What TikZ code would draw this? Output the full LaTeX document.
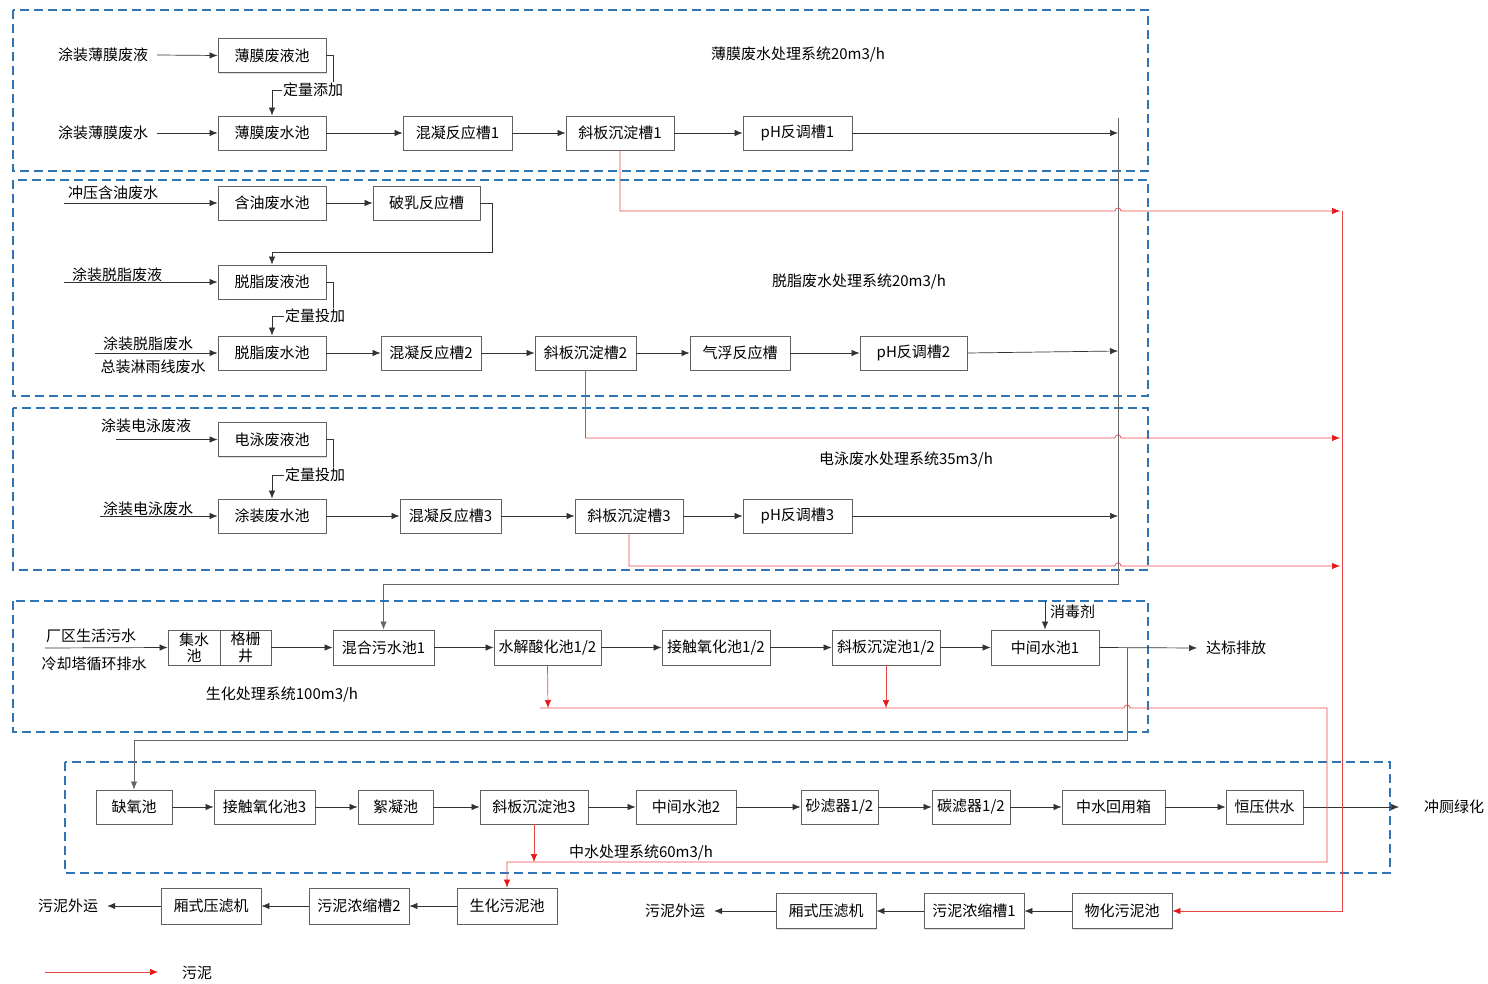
\documentclass[tikz,border=0pt]{standalone}
\usepackage{fontspec}
\setmainfont{Noto Sans CJK SC}
\usetikzlibrary{arrows.meta,shadows}
\definecolor{dashblue}{RGB}{46,117,182}
\definecolor{sludge}{RGB}{232,70,70}
\definecolor{sludgetip}{RGB}{235,20,20}
\tikzset{
  every node/.style={font=\fontsize{15pt}{18pt}\selectfont},
  unit/.style={rectangle, draw=black!62, line width=0.9pt, fill=white, minimum height=34pt, inner sep=1pt,
    drop shadow={shadow xshift=1.2pt, shadow yshift=-1.2pt, opacity=0.25}},
  txt/.style={inner sep=0pt},
  lbl/.style={inner sep=1pt, fill=white, anchor=west},
  flow/.style={draw=black!80, line width=0.7pt, -{Latex[length=8pt,width=6.5pt]}},
  plain/.style={draw=black!80, line width=0.7pt},
  collect/.style={draw=black!60, line width=0.8pt},
  mud/.style={draw=sludge, line width=0.7pt},
  mudarrow/.style={draw=sludge, line width=0.7pt, -{Latex[length=8pt,width=6.5pt,color=sludgetip]}},
  group/.style={draw=dashblue, line width=1.4pt, dash pattern=on 9pt off 5pt}
}
\begin{document}
\begin{tikzpicture}[x=1pt,y=-1pt]
\useasboundingbox (0,0) rectangle (1488,984);

% ---------- dashed group frames ----------
\draw[group] (13,10) rectangle (1148,171);
\draw[group] (13,180) rectangle (1148,396);
\draw[group] (13,408) rectangle (1148,570);
\draw[group] (13,601) rectangle (1148,732);
\draw[group] (65,762) rectangle (1390,873);

% ---------- system 1 ----------
\node[txt] (s1) at (103,55) {涂装薄膜废液};
\node[unit, minimum width=108pt] (b11) at (272,55.5) {薄膜废液池};
\node[txt] (s2) at (103,133) {涂装薄膜废水};
\node[unit, minimum width=108pt] (b12) at (272,133) {薄膜废水池};
\node[unit, minimum width=109pt] (b13) at (457.5,133) {混凝反应槽1};
\node[unit, minimum width=108pt] (b14) at (620,133) {斜板沉淀槽1};
\node[unit, minimum width=109pt] (b15) at (797.5,133) {pH反调槽1};
\node[txt] (t1) at (798,55) {薄膜废水处理系统20m3/h};
\coordinate (e1) at (1118,133);
\coordinate (k1) at (333,90);

\draw[flow] ([xshift=9pt]s1.east) -- (b11.west);
\draw[flow] ([xshift=9pt]s2.east) -- (b12.west);
\draw[flow] (b12) -- (b13);
\draw[flow] (b13) -- (b14);
\draw[flow] (b14) -- (b15);
\draw[flow] (b15.east) -- (e1);
\draw[flow] (b11.east) -| (k1) -| (b12.north);
\node[lbl] (q1) at (282,90) {定量添加};

% ---------- system 2 ----------
\coordinate (a21) at (64,203);
\node[txt, anchor=west] (s3) at (68,193) {冲压含油废水};
\node[unit, minimum width=108pt] (b21) at (272,203) {含油废水池};
\node[unit, minimum width=107pt] (b22) at (426.5,203) {破乳反应槽};
\coordinate (k2) at (492,252);
\coordinate (a23) at (64,282);
\node[txt, anchor=west] (s4) at (72,275) {涂装脱脂废液};
\node[unit, minimum width=108pt] (b23) at (272,282) {脱脂废液池};
\coordinate (k3) at (333,316);
\coordinate (a24) at (95,353);
\node[txt] (s5a) at (148,344) {涂装脱脂废水};
\node[txt] (s5b) at (153,367) {总装淋雨线废水};
\node[unit, minimum width=108pt] (b24) at (272,353) {脱脂废水池};
\node[unit, minimum width=100pt] (b25) at (431,353) {混凝反应槽2};
\node[unit, minimum width=101pt] (b26) at (585.5,353) {斜板沉淀槽2};
\node[unit, minimum width=100pt] (b27) at (740,353) {气浮反应槽};
\node[unit, minimum width=107pt] (b28) at (913.5,353) {pH反调槽2};
\coordinate (e2) at (1118,351);
\node[txt] (t2) at (859,282) {脱脂废水处理系统20m3/h};

\draw[flow] (a21) -- (b21.west);
\draw[flow] (b21) -- (b22);
\draw[flow] (b22.east) -| (k2) -| (b23.north);
\draw[flow] (a23) -- (b23.west);
\draw[flow] (b23.east) -| (k3) -| (b24.north);
\node[lbl] (q2) at (284,316) {定量投加};
\draw[flow] (a24) -- (b24.west);
\draw[flow] (b24) -- (b25);
\draw[flow] (b25) -- (b26);
\draw[flow] (b26) -- (b27);
\draw[flow] (b27) -- (b28);
\draw[flow] (b28.east) -- (e2);

% ---------- system 3 ----------
\coordinate (a31) at (116,439.5);
\node[txt] (s6) at (146,426) {涂装电泳废液};
\node[unit, minimum width=108pt] (b31) at (272,439.5) {电泳废液池};
\coordinate (k4) at (333,475);
\coordinate (a32) at (100,516);
\node[txt] (s7) at (148,509) {涂装电泳废水};
\node[unit, minimum width=108pt] (b32) at (272,516) {涂装废水池};
\node[unit, minimum width=101pt] (b33) at (450.5,516) {混凝反应槽3};
\node[unit, minimum width=108pt] (b34) at (629,516) {斜板沉淀槽3};
\node[unit, minimum width=109pt] (b35) at (797.5,516) {pH反调槽3};
\coordinate (e3) at (1118,516);
\node[txt] (t3) at (906,460) {电泳废水处理系统35m3/h};

\draw[flow] (a31) -- (b31.west);
\draw[flow] (b31.east) -| (k4) -| (b32.north);
\node[lbl] (q3) at (284,475) {定量投加};
\draw[flow] (a32) -- (b32.west);
\draw[flow] (b32) -- (b33);
\draw[flow] (b33) -- (b34);
\draw[flow] (b34) -- (b35);
\draw[flow] (b35.east) -- (e3);

% ---------- system 4 ----------
\coordinate (a41) at (45,648);
\node[txt] (s8) at (91,636) {厂区生活污水};
\node[txt] (s9) at (94,664) {冷却塔循环排水};
\node[unit, minimum width=52pt, minimum height=35pt, align=center, inner sep=0pt, font=\fontsize{15pt}{16.5pt}\selectfont] (b41) at (194,647.5) {集水\\池};
\node[unit, minimum width=51pt, minimum height=35pt, align=center, inner sep=0pt, font=\fontsize{15pt}{16.5pt}\selectfont] (b42) at (245.5,647.5) {格栅\\井};
\node[unit, minimum width=101pt, minimum height=35pt] (b43) at (383.5,647.5) {混合污水池1};
\node[unit, minimum width=107pt, minimum height=35pt] (b44) at (547.5,647.5) {水解酸化池1/2};
\node[unit, minimum width=108pt, minimum height=35pt] (b45) at (716,647.5) {接触氧化池1/2};
\node[unit, minimum width=108pt, minimum height=35pt] (b46) at (886,647.5) {斜板沉淀池1/2};
\node[unit, minimum width=108pt, minimum height=35pt] (b47) at (1045,647.5) {中间水池1};
\node[txt] (o1) at (1236,648) {达标排放};
\coordinate (dz) at (1045,601);
\node[txt, anchor=west] (dzt) at (1050,612) {消毒剂};
\node[txt] (t4) at (282,695) {生化处理系统100m3/h};
\coordinate (br) at (1127,648);
\coordinate (o1a) at (1197,648);

\draw[flow] (a41) -- (b41.west);
\draw[flow] (b42) -- (b43);
\draw[flow] (b43) -- (b44);
\draw[flow] (b44) -- (b45);
\draw[flow] (b45) -- (b46);
\draw[flow] (b46) -- (b47);
\draw[flow] (b47.east) -- (o1a);
\draw[flow] (dz) -- (b47.north);

% collector of the three pretreatment systems
\coordinate (c1) at (1118,118);
\draw[collect, -{Latex[length=8pt,width=6.5pt]}] (c1) -- (1118,584) -| (b43.north);

% ---------- system 5 ----------
\node[unit, minimum width=76pt] (b51) at (134,807) {缺氧池};
\node[unit, minimum width=101pt] (b52) at (264.5,807) {接触氧化池3};
\node[unit, minimum width=75pt] (b53) at (395.5,807) {絮凝池};
\node[unit, minimum width=108pt] (b54) at (534,807) {斜板沉淀池3};
\node[unit, minimum width=100pt] (b55) at (686,807) {中间水池2};
\node[unit, minimum width=77pt] (b56) at (839.5,807) {砂滤器1/2};
\node[unit, minimum width=78pt] (b57) at (971,807) {碳滤器1/2};
\node[unit, minimum width=103pt] (b58) at (1113.5,807) {中水回用箱};
\node[unit, minimum width=77pt] (b59) at (1264.5,807) {恒压供水};
\coordinate (o2a) at (1399,807);
\node[txt] (o2) at (1454,807) {冲厕绿化};
\node[txt] (t5) at (641,853) {中水处理系统60m3/h};

\draw[collect, -{Latex[length=8pt,width=6.5pt]}] (br) -- (1127,740) -| (b51.north);
\draw[flow] (b51) -- (b52);
\draw[flow] (b52) -- (b53);
\draw[flow] (b53) -- (b54);
\draw[flow] (b54) -- (b55);
\draw[flow] (b55) -- (b56);
\draw[flow] (b56) -- (b57);
\draw[flow] (b57) -- (b58);
\draw[flow] (b58) -- (b59);
\draw[flow] (b59.east) -- (o2a);

% ---------- sludge lines ----------
\node[unit, minimum width=100pt, minimum height=36pt] (b61) at (507,906) {生化污泥池};
\node[unit, minimum width=100pt, minimum height=36pt] (b62) at (359,906) {污泥浓缩槽2};
\node[unit, minimum width=100pt, minimum height=36pt] (b63) at (211,906) {厢式压滤机};
\node[txt] (w1) at (68,906) {污泥外运};
\node[unit, minimum width=100pt, minimum height=35pt] (b64) at (1122,911) {物化污泥池};
\node[unit, minimum width=100pt, minimum height=35pt] (b65) at (974,911) {污泥浓缩槽1};
\node[unit, minimum width=100pt, minimum height=35pt] (b66) at (826,911) {厢式压滤机};
\node[txt] (w2) at (675,911) {污泥外运};

\draw[flow] (b61) -- (b62);
\draw[flow] (b62) -- (b63);
\draw[flow] (b63.west) -- ([xshift=9pt]w1.east);
\draw[flow] (b64) -- (b65);
\draw[flow] (b65) -- (b66);
\draw[flow] (b66.west) -- ([xshift=9pt]w2.east);

% physico-chemical sludge
\coordinate (r1) at (1340,211);
\coordinate (r2) at (1340,438);
\coordinate (r3) at (1340,566);
\draw[mudarrow] (b14.south) |- (1115,211) arc[start angle=180,end angle=0,radius=3pt] -- (r1);
\draw[mudarrow] (b26.south) |- (1115,438) arc[start angle=180,end angle=0,radius=3pt] -- (r2);
\draw[mudarrow] (b34.south) |- (1115,566) arc[start angle=180,end angle=0,radius=3pt] -- (r3);
\draw[mudarrow] (1342,211) |- (b64.east);

% biological sludge
\coordinate (m1) at (548,708);
\coordinate (m2) at (886,708);
\coordinate (m3) at (534,862);
\draw[mudarrow] (b44.south) -- (m1);
\draw[mudarrow] (b46.south) -- (m2);
\draw[mudarrow] (b54.south) -- (m3);
\draw[mudarrow] (540,708) -- (1124,708) arc[start angle=180,end angle=0,radius=3pt] -- (1327,708) -- (1327,862) -| (b61.north);

% legend
\coordinate (lg1) at (45,972);
\coordinate (lg2) at (158,972);
\draw[mudarrow] (lg1) -- (lg2);
\node[txt] (lgt) at (197,973) {污泥};
\end{tikzpicture}
\end{document}
